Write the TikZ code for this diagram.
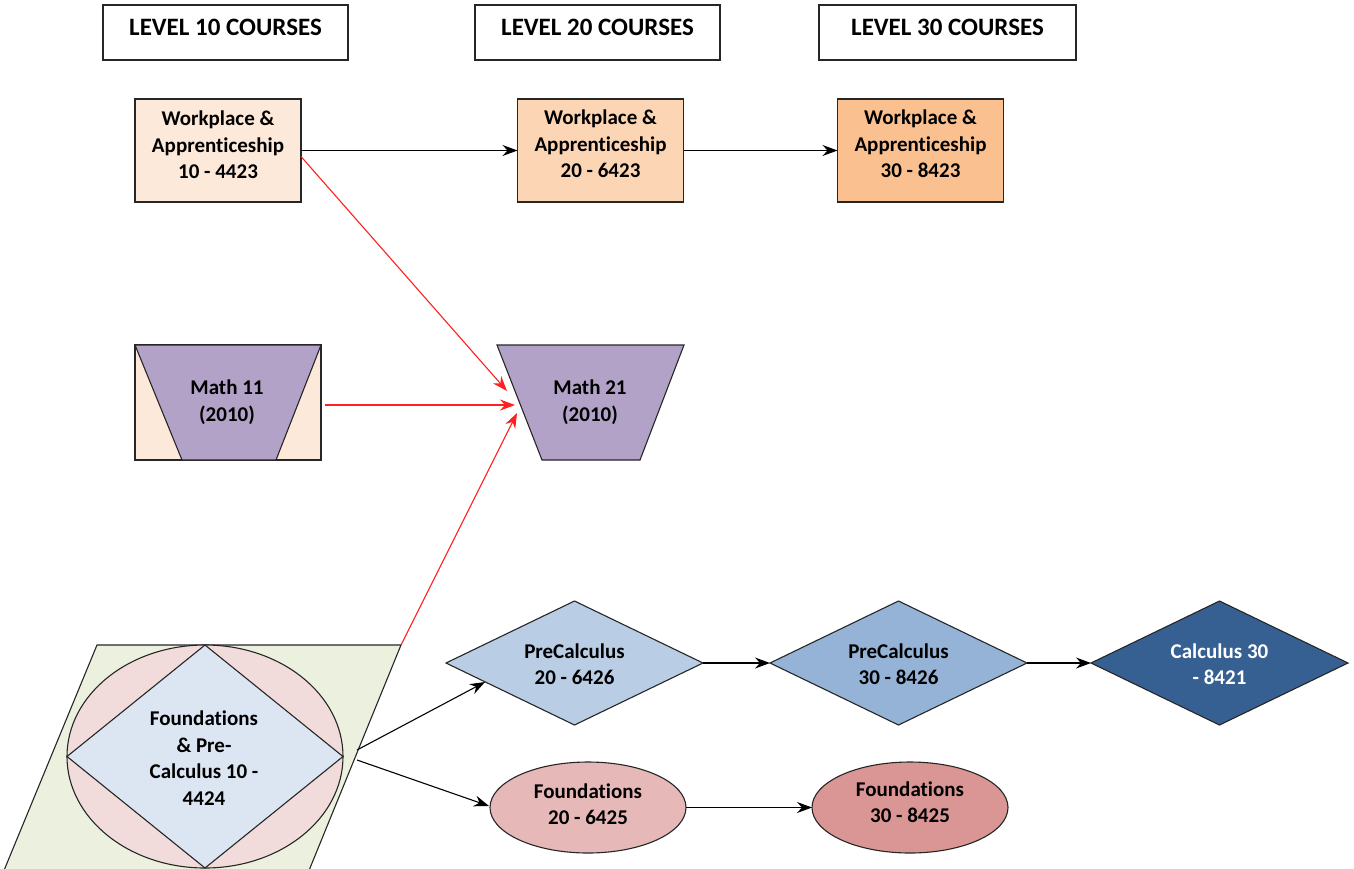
\documentclass[tikz,border=0pt]{standalone}
\usepackage{fontspec}
\setmainfont{Carlito}[Ligatures=NoCommon]
\usetikzlibrary{arrows.meta,shapes.geometric}
\definecolor{wA}{HTML}{FDE9D9}
\definecolor{wB}{HTML}{FCD5B5}
\definecolor{wC}{HTML}{FAC090}
\definecolor{mpurple}{HTML}{B3A2C7}
\definecolor{pgreen}{HTML}{EBF1DE}
\definecolor{epink}{HTML}{F2DCDB}
\definecolor{dblue}{HTML}{DCE6F2}
\definecolor{pcA}{HTML}{B9CDE5}
\definecolor{pcB}{HTML}{95B3D7}
\definecolor{pcC}{HTML}{376092}
\definecolor{fA}{HTML}{E6B9B8}
\definecolor{fB}{HTML}{D99694}
\definecolor{redline}{HTML}{FF2020}
\begin{document}
\begin{tikzpicture}[x=1pt,y=-1pt,
  every node/.style={font=\bfseries\fontsize{21}{26.5}\selectfont, align=center, inner sep=0pt, outer sep=0pt},
  shapeline/.style={draw=black!85, line width=1.1pt},
  hdrbox/.style={shapeline, minimum width=245, minimum height=55},
  hdrtext/.style={font=\bfseries\fontsize{25}{28}\selectfont},
  wbox/.style={shapeline, minimum width=166, minimum height=103},
  pcd/.style={diamond, shapeline, minimum width=257, minimum height=124, aspect=2},
  fell/.style={ellipse, shapeline, minimum width=196, minimum height=91},
  blk/.style={draw=black, line width=1.1pt, -{Stealth[length=15pt,width=11pt,inset=5pt]}},
  rd/.style={draw=redline, line width=1.1pt, -{Stealth[length=15pt,width=11pt,inset=5pt]}}
]
\useasboundingbox (0,0) rectangle (1354,868);
\clip (0,0) rectangle (1354,868);

% headers
\node[hdrbox] (h10) at (225.5,32.5) {};
\node[hdrbox] (h20) at (597.5,32.5) {};
\node[hdrbox, minimum width=257] (h30) at (947.5,32.5) {};
\node[hdrtext] (t10) at ([yshift=-22pt]h10.north) {LEVEL 10 COURSES};
\node[hdrtext] (t20) at ([yshift=-22pt]h20.north) {LEVEL 20 COURSES};
\node[hdrtext] (t30) at ([yshift=-22pt]h30.north) {LEVEL 30 COURSES};

% workplace
\node[wbox, fill=wA] (w10) at (218,150.5) {};
\node (w10t) at (218,145) {Workplace \&\\Apprenticeship\\10 - 4423};
\node[wbox, fill=wB] (w20) at (600.5,150.5) {};
\node (w20t) at (600.5,144) {Workplace \&\\Apprenticeship\\20 - 6423};
\node[wbox, fill=wC] (w30) at (920.5,150.5) {};
\node (w30t) at (920.5,144) {Workplace \&\\Apprenticeship\\30 - 8423};

% math 11
\node[shapeline, fill=wA, minimum width=186, minimum height=115] (m11box) at (228,402.5) {};
\path[shapeline, fill=mpurple] (m11box.north west) -- (m11box.north east) -- (276,460) -- (182,460) -- cycle;
\node (m11) at (227,402) {Math 11\\(2010)};

% math 21
\path[shapeline, fill=mpurple] (497,345) -- (684,345) -- (640,460) -- (542,460) -- cycle;
\node (m21) at (590,402) {Math 21\\(2010)};
\coordinate (m21a) at (507,391);
\coordinate (m21b) at (515,405);
\coordinate (m21c) at (517,413);

% foundations & precalc 10
\path[shapeline, fill=pgreen] (97,645) -- (401,645) -- (310,868) -- (306,878) -- (1,878) -- (5,868) -- cycle;
\coordinate (pTR) at (401,645);
\coordinate (pR1) at (357,750);
\coordinate (pR2) at (357,760);
\node[ellipse, shapeline, fill=epink, minimum width=276, minimum height=223] (fel) at (205,756.5) {};
\path[shapeline, fill=dblue] (fel.north) -- (fel.east) -- (fel.south) -- (fel.west) -- cycle;
\node (f10) at (204,758) {Foundations\\\& Pre-\\Calculus 10 -\\4424};

% precalc
\node[pcd, fill=pcA] (pc20) at (574.5,663) {};
\node (pc20t) at (574.5,664) {PreCalculus\\20 - 6426};
\node[pcd, fill=pcB] (pc30) at (898.5,663) {};
\node (pc30t) at (898.5,664) {PreCalculus\\30 - 8426};
\node[pcd, fill=pcC] (c30) at (1219.5,663) {};
\node[text=white] (c30t) at (1219.5,664) {Calculus 30\\- 8421};
\coordinate (pc20in) at (485,682);

% foundations
\node[fell, fill=fA] (f20) at (588,807.5) {};
\node (f20t) at (588,804) {Foundations\\20 - 6425};
\node[fell, fill=fB] (f30) at (910,807.5) {};
\node (f30t) at (910,802) {Foundations\\30 - 8425};
\coordinate (f20in) at (489,806);

% connectors
\path[blk] (w10.east) -- (w20.west);
\path[blk] (w20.east) -- (w30.west);
\path[rd] ([yshift=-6pt]w10.east) -- (m21a);
\path[rd] ([xshift=4pt,yshift=-2.5pt]m11box.east) -- (m21b);
\path[rd] (pTR) -- (m21c);
\path[blk] (pR1) -- (pc20in);
\path[blk] (pR2) -- (f20in);
\path[blk] (pc20.east) -- (pc30.west);
\path[blk] (pc30.east) -- (c30.west);
\path[blk] (f20.east) -- (f30.west);
\end{tikzpicture}
\end{document}
